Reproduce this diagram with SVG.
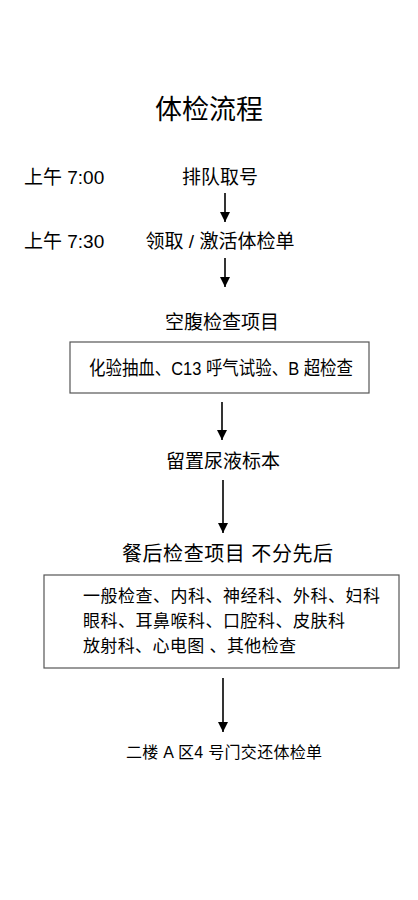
<svg xmlns="http://www.w3.org/2000/svg" width="418" height="900" viewBox="0 0 418 900">
<style>
text{font-family:"Liberation Sans","Noto Sans CJK SC",sans-serif;fill:#000}
.t{font-size:27px}
.h{font-size:19px}
.m{font-size:17px}
.box{fill:#fff;stroke:#555;stroke-width:1.2}
.c line{stroke:#000;stroke-width:1.6}
</style>
<defs>
<marker id="ah" viewBox="0 0 10 10" refX="10" refY="5" markerWidth="10" markerHeight="10" markerUnits="userSpaceOnUse" orient="auto">
<path d="M0,0 L10,5 L0,10 Z" fill="#000"/>
</marker>
</defs>
<rect width="418" height="900" fill="#fff"/>
<g id="title"><text class="t" x="209" y="119" text-anchor="middle">体检流程</text></g>
<g id="time1"><text class="h" x="24" y="184">上午 7:00</text></g>
<g id="n1"><text class="h" x="220" y="184" text-anchor="middle">排队取号</text></g>
<g id="time2"><text class="h" x="24" y="248">上午 7:30</text></g>
<g id="n2"><text class="h" x="220" y="248" text-anchor="middle">领取 / 激活体检单</text></g>
<g id="n3"><text class="h" x="222" y="329" text-anchor="middle">空腹检查项目</text></g>
<g id="box1"><rect class="box" x="70" y="342" width="299" height="51"/>
<text class="h" x="89" y="375" textLength="264" lengthAdjust="spacingAndGlyphs">化验抽血、C13 呼气试验、B 超检查</text></g>
<g id="n4"><text class="h" x="223" y="468" text-anchor="middle">留置尿液标本</text></g>
<g id="n5"><text class="h" x="122" y="561" textLength="211" lengthAdjust="spacing" style="font-size:20px">餐后检查项目 不分先后</text></g>
<g id="box2"><rect class="box" x="44" y="575" width="355" height="93"/>
<text class="m" x="83" y="602" textLength="297" lengthAdjust="spacing">一般检查、内科、神经科、外科、妇科</text>
<text class="m" x="83" y="627" textLength="262" lengthAdjust="spacing">眼科、耳鼻喉科、口腔科、皮肤科</text>
<text class="m" x="83" y="652" textLength="213" lengthAdjust="spacing">放射科、心电图 、其他检查</text></g>
<g id="n6"><text class="m" x="126" y="758" textLength="196" lengthAdjust="spacing" style="font-size:16px">二楼 A 区4 号门交还体检单</text></g>
<g class="c" id="connectors">
<line x1="225" y1="193" x2="225" y2="222" marker-end="url(#ah)"/>
<line x1="225" y1="258" x2="225" y2="287" marker-end="url(#ah)"/>
<line x1="222" y1="402" x2="222" y2="440" marker-end="url(#ah)"/>
<line x1="223" y1="480" x2="223" y2="533" marker-end="url(#ah)"/>
<line x1="223" y1="678" x2="223" y2="732" marker-end="url(#ah)"/>
</g>
</svg>
